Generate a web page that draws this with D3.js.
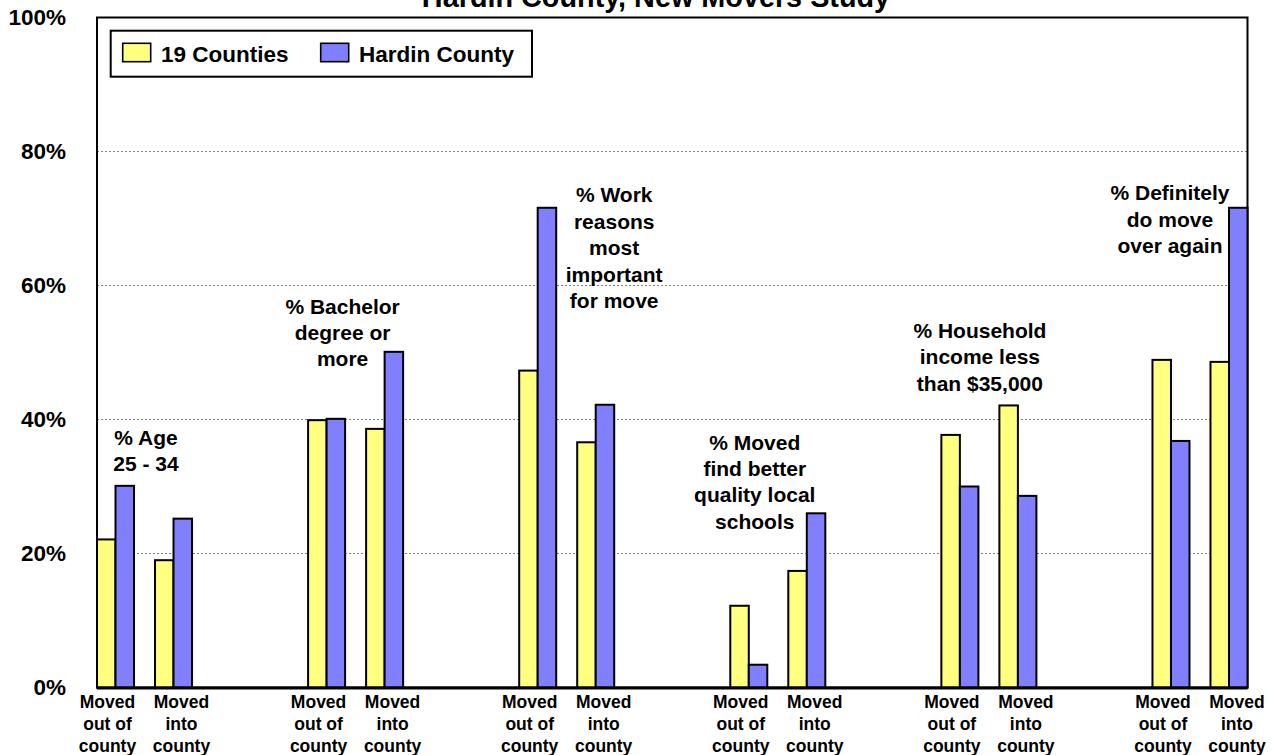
<!DOCTYPE html>
<html>
<head>
<meta charset="utf-8">
<script src="https://cdn.jsdelivr.net/npm/d3@7"></script>
<style>
  body { margin: 0; background: #fff; }
  svg { display: block; font-family: "Liberation Sans", Arial, sans-serif; font-weight: bold; }
</style>
</head>
<body>
<svg id="chart" width="1273" height="755"></svg>
<script>
// ------------------------------------------------------------------
// data (percent)
// ------------------------------------------------------------------
const groups = ["age", "bachelor", "work", "schools", "income", "again"];
const moves = ["out", "in"];
const seriesNames = ["19 Counties", "Hardin County"];

const countiesOut = [22.1, 39.9, 47.3, 12.2, 37.7, 48.9];
const countiesIn  = [19.0, 38.6, 36.6, 17.4, 42.1, 48.6];
const hardinOut   = [30.1, 40.1, 71.6, 3.4, 30.0, 36.8];
const hardinIn    = [25.2, 50.1, 42.2, 26.0, 28.6, 71.6];

const moveLabels = {
  out: ["Moved", "out of", "county"],
  in: ["Moved", "into", "county"],
};

const notes = [
  ["% Age", "25 - 34"],
  ["% Bachelor", "degree or", "more"],
  ["% Work", "reasons", "most", "important", "for move"],
  ["% Moved", "find better", "quality local", "schools"],
  ["% Household", "income less", "than $35,000"],
  ["% Definitely", "do move", "over again"],
];

const yTicks = [0, 20, 40, 60, 80, 100];
const title = "Hardin County, New Movers Study";

const COLOR = { "19 Counties": "#FFFF80", "Hardin County": "#8080FF" };

// ------------------------------------------------------------------
// layout
// ------------------------------------------------------------------
const svg = d3.select("#chart");
const plotLeft = 97, plotRight = 1247.5, plotTop = 17.5, plotBottom = 687.5;

const y = d3.scaleLinear().domain([0, 100]).range([plotBottom, plotTop]);

const xGroup = d3.scaleBand().domain(groups).range([plotLeft, plotRight])
  .paddingInner(0.5498).paddingOuter(0);
const xMove = d3.scaleBand().domain(moves).range([0, xGroup.bandwidth()])
  .paddingInner(0.362);
const xSeries = d3.scaleBand().domain(seriesNames).range([0, xMove.bandwidth()]);
// category labels sit a bit wider than the bar pairs
const xLabel = d3.scalePoint().domain(moves).range([10.5, 84.5]);

// where each note's first line sits: [x offset from group centre, y value]
const noteAt = [[1.5, 36.2], [-13, 55.8], [47.5, 72.4], [-23, 35.5], [-9, 52.2], [-30, 72.7]];

const rows = [];
groups.forEach((g, i) => {
  rows.push({ g, move: "out", series: "19 Counties", value: countiesOut[i] });
  rows.push({ g, move: "out", series: "Hardin County", value: hardinOut[i] });
  rows.push({ g, move: "in", series: "19 Counties", value: countiesIn[i] });
  rows.push({ g, move: "in", series: "Hardin County", value: hardinIn[i] });
});

// ------------------------------------------------------------------
// title (cut by the top edge, as in the source)
// ------------------------------------------------------------------
svg.append("text")
  .attr("x", 656).attr("y", 7)
  .attr("text-anchor", "middle")
  .attr("font-size", 28.8)
  .text(title);

// ------------------------------------------------------------------
// grid + frame
// ------------------------------------------------------------------
svg.append("g")
  .selectAll("line")
  .data(yTicks.filter(d => d > 0 && d < 100))
  .join("line")
  .attr("x1", plotLeft).attr("x2", plotRight)
  .attr("y1", d => y(d)).attr("y2", d => y(d))
  .attr("stroke", "#808080")
  .attr("stroke-width", 1)
  .attr("stroke-dasharray", "2,2");

svg.append("rect")
  .attr("x", plotLeft).attr("y", plotTop)
  .attr("width", plotRight - plotLeft).attr("height", plotBottom - plotTop)
  .attr("fill", "none")
  .attr("stroke", "#000")
  .attr("stroke-width", 2);

// y axis
const yAxis = svg.append("g")
  .attr("transform", `translate(${plotLeft},0)`)
  .call(d3.axisLeft(y).tickValues(yTicks).tickFormat(d => d + "%").tickSize(0).tickPadding(31));
yAxis.select(".domain").remove();
yAxis.selectAll("text")
  .attr("font-family", "Liberation Sans, Arial, sans-serif")
  .attr("font-weight", "bold")
  .attr("font-size", 22.5)
  .attr("fill", "#000");

// ------------------------------------------------------------------
// bars
// ------------------------------------------------------------------
svg.append("g")
  .selectAll("rect")
  .data(rows)
  .join("rect")
  .attr("x", d => xGroup(d.g) + xMove(d.move) + xSeries(d.series))
  .attr("y", d => y(d.value))
  .attr("width", xSeries.bandwidth())
  .attr("height", d => y(0) - y(d.value))
  .attr("fill", d => COLOR[d.series])
  .attr("stroke", "#000")
  .attr("stroke-width", 2);

// baseline
svg.append("line")
  .attr("x1", plotLeft).attr("x2", plotRight)
  .attr("y1", y(0) + 0.5).attr("y2", y(0) + 0.5)
  .attr("stroke", "#000")
  .attr("stroke-width", 3);

// ------------------------------------------------------------------
// category labels
// ------------------------------------------------------------------
const catLabels = svg.append("g").attr("font-size", 17.5).attr("text-anchor", "middle");
groups.forEach(g => {
  moves.forEach(m => {
    const t = catLabels.append("text")
      .attr("x", xGroup(g) + xLabel(m))
      .attr("y", 708.3);
    moveLabels[m].forEach((line, k) => {
      t.append("tspan")
        .attr("x", xGroup(g) + xLabel(m))
        .attr("dy", k === 0 ? 0 : 21.7)
        .text(line);
    });
  });
});

// ------------------------------------------------------------------
// notes above the groups
// ------------------------------------------------------------------
const noteG = svg.append("g").attr("font-size", 21).attr("text-anchor", "middle");
notes.forEach((lines, i) => {
  const cx = xGroup(groups[i]) + xGroup.bandwidth() / 2 + noteAt[i][0];
  const t = noteG.append("text").attr("x", cx).attr("y", y(noteAt[i][1]));
  lines.forEach((line, k) => {
    t.append("tspan").attr("x", cx).attr("dy", k === 0 ? 0 : 26.4).text(line);
  });
});

// ------------------------------------------------------------------
// legend
// ------------------------------------------------------------------
const legend = svg.append("g");
legend.append("rect")
  .attr("x", 110.7).attr("y", 30.7)
  .attr("width", 421.3).attr("height", 46)
  .attr("fill", "#fff")
  .attr("stroke", "#000")
  .attr("stroke-width", 2);

const legendX = [122.7, 320.7];
seriesNames.forEach((s, i) => {
  legend.append("rect")
    .attr("x", legendX[i]).attr("y", 43.3)
    .attr("width", 28).attr("height", 18.4)
    .attr("fill", COLOR[s])
    .attr("stroke", "#000")
    .attr("stroke-width", 1.6);
  legend.append("text")
    .attr("x", legendX[i] + 38.3).attr("y", 61.5)
    .attr("font-size", 22.5)
    .text(s);
});
</script>
</body>
</html>
